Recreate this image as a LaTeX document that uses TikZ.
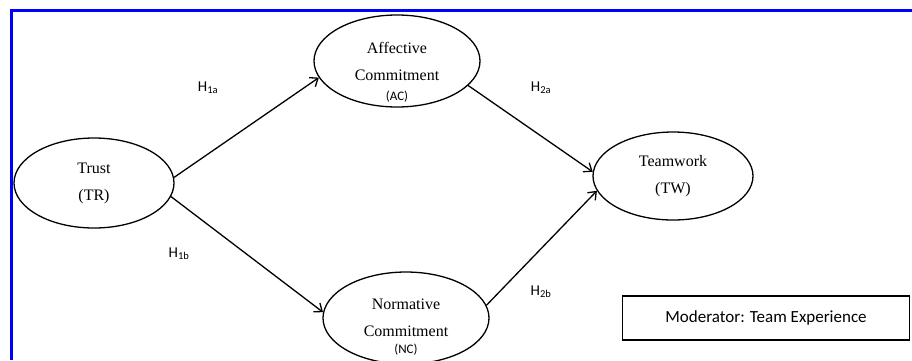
\documentclass[tikz,border=0pt]{standalone}
\usepackage{fontspec}
\setmainfont{Liberation Serif}
\newfontfamily\calfont{Carlito}
\usetikzlibrary{arrows.meta,shapes.geometric}
\tikzset{
  latent/.style={draw, ellipse, line width=1.3pt, inner sep=0pt, align=center,
    font=\fontsize{16}{27}\selectfont},
  abbr/.style={font=\calfont\fontsize{13}{15}\selectfont, inner sep=0pt},
  hyp/.style={font=\calfont\fontsize{15}{17}\selectfont, inner sep=0pt},
  hpath/.style={line width=1.3pt, -{Straight Barb[length=7pt,width=11pt]}},
}
\begin{document}
\begin{tikzpicture}[x=1pt, y=-1pt]
\useasboundingbox (0,0) rectangle (912,360);
% frame
\draw[blue, line width=3pt] (11.5,360) -- (11.5,10.5) -- (912,10.5);
% constructs
\node[latent, minimum width=160pt, minimum height=90pt] (tr) at (94,183) {Trust\\(TR)};
\node[latent, minimum width=166pt, minimum height=92pt] (ac) at (397,61) {Affective\\Commitment};
\node[abbr] (acl) at ([yshift=-36pt]ac.center) {(AC)};
\node[latent, minimum width=166pt, minimum height=92pt] (nc) at (406,318) {Normative\\Commitment};
\node[abbr] (ncl) at ([yshift=-32pt]nc.center) {(NC)};
\node[latent, minimum width=160pt, minimum height=88pt] (tw) at (673,176) {Teamwork\\(TW)};
% paths
\draw[hpath] (tr.4) -- (ac.192);
\draw[hpath] (tr.-10) -- (nc.176);
\draw[hpath] (ac.-19) -- (tw.177);
\draw[hpath] (nc.9) -- (tw.191);
\node[hyp] (h1a) at (208,88) {H\textsubscript{1a}};
\node[hyp] (h1b) at (179,254) {H\textsubscript{1b}};
\node[hyp] (h2a) at (541,88) {H\textsubscript{2a}};
\node[hyp] (h2b) at (541,292) {H\textsubscript{2b}};
% moderator
\node[draw, line width=1.3pt, minimum width=287pt, minimum height=44pt,
  font=\calfont\fontsize{17}{20}\selectfont] (mod) at (766,318) {Moderator: Team Experience};
\end{tikzpicture}
\end{document}
